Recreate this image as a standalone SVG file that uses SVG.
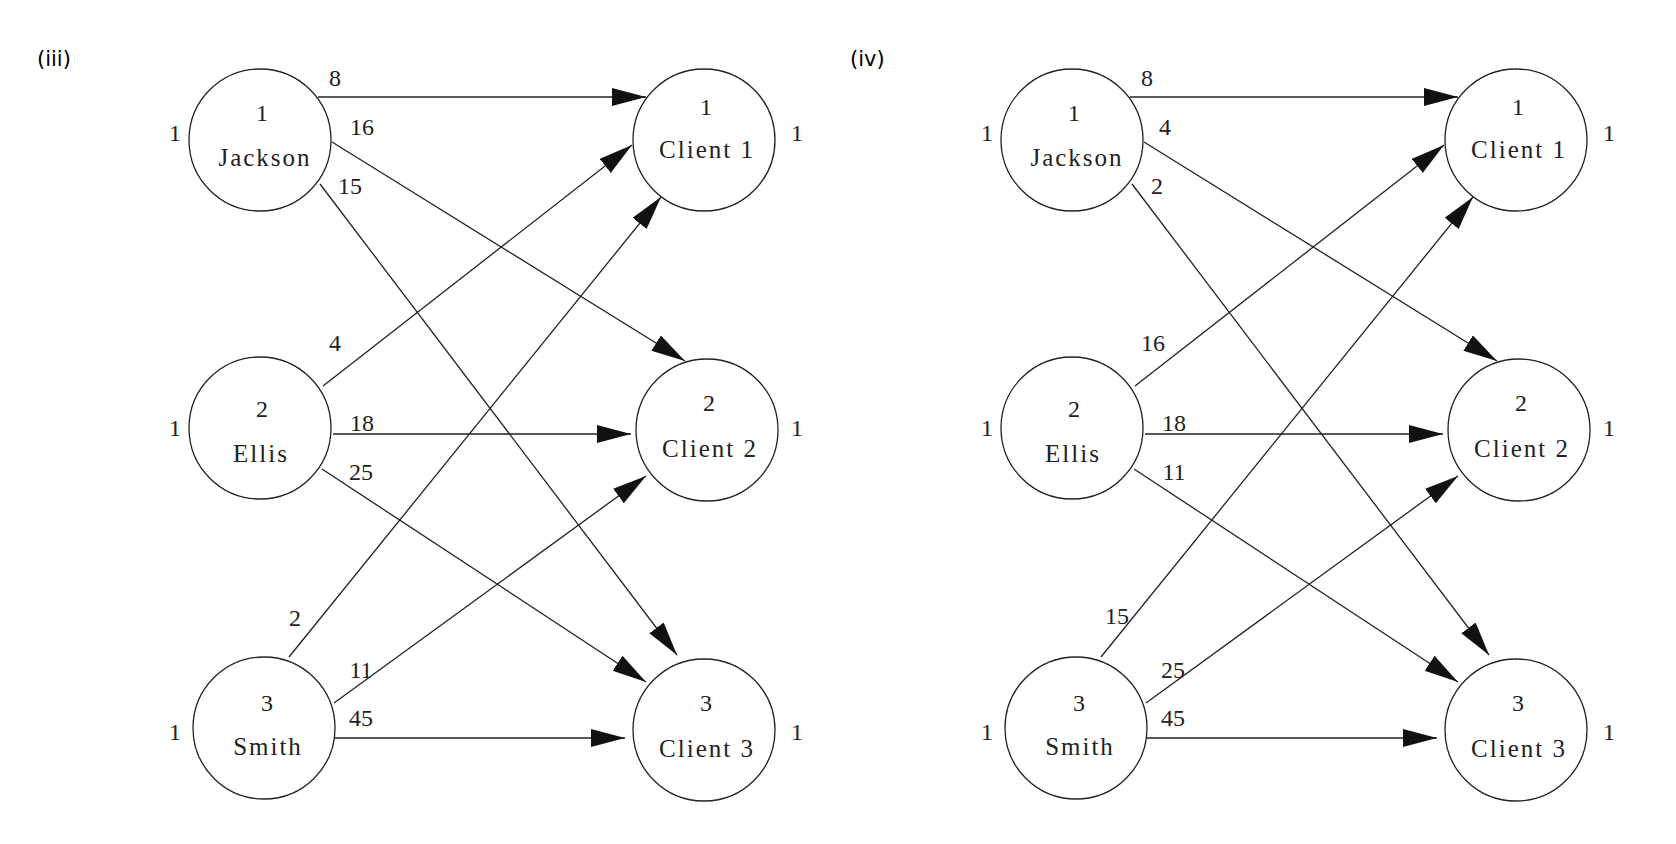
<svg xmlns="http://www.w3.org/2000/svg" width="1676" height="844" viewBox="0 0 1676 844">
<style>
text{font-family:"Liberation Serif",serif;font-size:24px;fill:#222;text-anchor:middle}
.nm{font-size:25px;letter-spacing:2px}
.cap{font-family:"DejaVu Sans",sans-serif;font-size:21px;fill:#000}
circle{fill:#fff;stroke:#222;stroke-width:1.3}
line{stroke:#222;stroke-width:1.3;marker-end:url(#ah)}
</style>
<defs><marker id="ah" markerUnits="userSpaceOnUse" markerWidth="36" markerHeight="20" refX="34" refY="9" orient="auto"><path d="M0,0 L34,9 L0,18 Z" fill="#111"/></marker></defs>
<rect width="1676" height="844" fill="#fff"/>
<text class="cap" x="37" y="66" style="text-anchor:start">(iii)</text>
<text class="cap" x="850" y="66" style="text-anchor:start">(iv)</text>
<g id="edges">
<line x1="318" y1="97" x2="646" y2="97"/>
<line x1="332" y1="142" x2="685" y2="361"/>
<line x1="320" y1="184" x2="677" y2="655"/>
<line x1="323" y1="386" x2="632" y2="145"/>
<line x1="333" y1="434" x2="631" y2="434"/>
<line x1="322" y1="469" x2="646" y2="682"/>
<line x1="289" y1="657" x2="661" y2="197"/>
<line x1="334" y1="703" x2="646" y2="476"/>
<line x1="335" y1="738" x2="625" y2="738"/>
<line x1="1130" y1="97" x2="1458" y2="97"/>
<line x1="1144" y1="142" x2="1497" y2="361"/>
<line x1="1132" y1="184" x2="1489" y2="655"/>
<line x1="1135" y1="386" x2="1444" y2="145"/>
<line x1="1145" y1="434" x2="1443" y2="434"/>
<line x1="1134" y1="469" x2="1458" y2="682"/>
<line x1="1101" y1="657" x2="1473" y2="197"/>
<line x1="1146" y1="703" x2="1458" y2="476"/>
<line x1="1147" y1="738" x2="1437" y2="738"/>
</g>
<g id="weights">
<text x="335" y="86">8</text><text x="362" y="135">16</text><text x="350" y="194">15</text>
<text x="335" y="351">4</text><text x="362" y="431">18</text><text x="361" y="480">25</text>
<text x="295" y="626">2</text><text x="361" y="678">11</text><text x="361" y="726">45</text>
<text x="1147" y="86">8</text><text x="1165" y="135">4</text><text x="1157" y="194">2</text>
<text x="1153" y="351">16</text><text x="1174" y="431">18</text><text x="1174" y="480">11</text>
<text x="1117" y="624">15</text><text x="1173" y="678">25</text><text x="1173" y="726">45</text>
</g>
<g id="iii-jackson"><circle cx="260" cy="140" r="71"/><text x="262" y="121">1</text><text class="nm" x="265" y="166">Jackson</text><text x="175" y="141">1</text></g>
<g id="iii-ellis"><circle cx="260" cy="428" r="71"/><text x="262" y="417">2</text><text class="nm" x="261" y="462">Ellis</text><text x="175" y="436">1</text></g>
<g id="iii-smith"><circle cx="264" cy="728" r="71"/><text x="267" y="711">3</text><text class="nm" x="268" y="755">Smith</text><text x="175" y="740">1</text></g>
<g id="iii-client1"><circle cx="704" cy="140" r="71"/><text x="706" y="115">1</text><text class="nm" x="707" y="158">Client 1</text><text x="797" y="141">1</text></g>
<g id="iii-client2"><circle cx="707" cy="430" r="71"/><text x="709" y="411">2</text><text class="nm" x="710" y="457">Client 2</text><text x="797" y="436">1</text></g>
<g id="iii-client3"><circle cx="704" cy="730" r="71"/><text x="706" y="711">3</text><text class="nm" x="707" y="757">Client 3</text><text x="797" y="740">1</text></g>
<g id="iv-jackson"><circle cx="1072" cy="140" r="71"/><text x="1074" y="121">1</text><text class="nm" x="1077" y="166">Jackson</text><text x="987" y="141">1</text></g>
<g id="iv-ellis"><circle cx="1072" cy="428" r="71"/><text x="1074" y="417">2</text><text class="nm" x="1073" y="462">Ellis</text><text x="987" y="436">1</text></g>
<g id="iv-smith"><circle cx="1076" cy="728" r="71"/><text x="1079" y="711">3</text><text class="nm" x="1080" y="755">Smith</text><text x="987" y="740">1</text></g>
<g id="iv-client1"><circle cx="1516" cy="140" r="71"/><text x="1518" y="115">1</text><text class="nm" x="1519" y="158">Client 1</text><text x="1609" y="141">1</text></g>
<g id="iv-client2"><circle cx="1519" cy="430" r="71"/><text x="1521" y="411">2</text><text class="nm" x="1522" y="457">Client 2</text><text x="1609" y="436">1</text></g>
<g id="iv-client3"><circle cx="1516" cy="730" r="71"/><text x="1518" y="711">3</text><text class="nm" x="1519" y="757">Client 3</text><text x="1609" y="740">1</text></g>
</svg>
